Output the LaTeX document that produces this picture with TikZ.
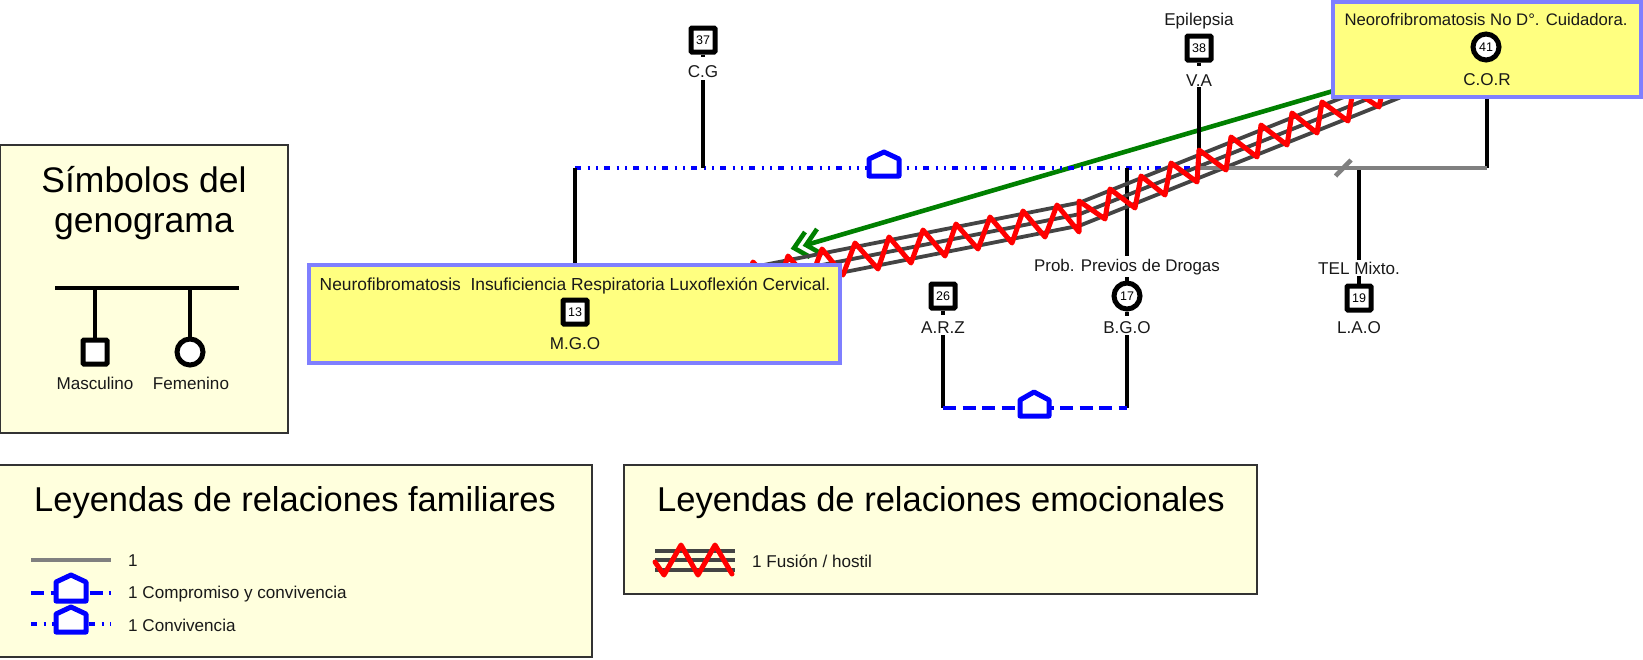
\documentclass[tikz,border=0pt]{standalone}
\usepackage{fontspec}
\setmainfont{Liberation Sans}
\definecolor{legfill}{HTML}{FFFFDD}
\definecolor{hlfill}{HTML}{FFFF80}
\definecolor{hlborder}{HTML}{7F7FFF}
\definecolor{bandgray}{HTML}{444444}
\definecolor{relgray}{HTML}{808080}
\definecolor{relblue}{HTML}{0000FF}
\definecolor{relred}{HTML}{FF0000}
\definecolor{relgreen}{HTML}{008000}
\tikzset{
  legbox/.style={draw=black!80,fill=legfill,line width=1.5pt},
  hlbox/.style={draw=hlborder,fill=hlfill,line width=4.5pt},
  kin/.style={draw=black,line width=4.6pt},
  malebox/.style={draw=black,fill=white,line width=5pt,rounded corners=1pt,minimum size=24pt,inner sep=0pt,shape=rectangle,font=\fontsize{12.5}{12.5}\selectfont},
  femcirc/.style={draw=black,fill=white,line width=5pt,circle,minimum size=26pt,inner sep=0pt,font=\fontsize{12.5}{12.5}\selectfont},
  lab/.style={font=\fontsize{17.1}{17.1}\selectfont,inner sep=0pt,text=black!90},
  bigt/.style={font=\fontsize{34.5}{34.5}\selectfont,inner sep=0pt},
  house/.style={draw=relblue,fill=white,line width=5pt,line join=round},
  dashrel/.style={draw=relblue,line width=4.6pt,dash pattern=on 13pt off 6.5pt},
  dotrel/.style={draw=relblue,line width=4.6pt,dash pattern=on 5.5pt off 7pt on 2pt off 6.5pt on 2pt off 6pt},
  grayrel/.style={draw=relgray,line width=4.6pt},
  band/.style={draw=bandgray,line width=3.8pt},
  zig/.style={draw=relred,line width=5pt,line join=round,line cap=round},
  greenrel/.style={draw=relgreen,line width=4.6pt},
}
\begin{document}
\begin{tikzpicture}[x=1pt,y=-1pt]
\useasboundingbox (0,0) rectangle (1643,659);
% legend boxes
\draw[legbox] (0,145) rectangle (288,433);
\draw[legbox] (-2,465) rectangle (592,657);
\draw[legbox] (624,465) rectangle (1257,594);
\node[bigt,font=\fontsize{35.5}{35.5}\selectfont] (symA) at (144,180) {Símbolos del};
\node[bigt,font=\fontsize{35.5}{35.5}\selectfont] (symB) at (144,227) {genograma};
\coordinate (barL) at (55,288);
\coordinate (barR) at (239,288);
\coordinate (barM) at (95,288);
\coordinate (barF) at (190,288);
\draw[kin] (barL) -- (barR);
\node[malebox] (symM) at (95,352) {};
\node[femcirc] (symF) at (190,352) {};
\draw[kin] (barM) -- (symM.north);
\draw[kin] (barF) -- (symF.north);
\node[lab] (tM) at (95,383) {Masculino};
\node[lab] (tF) at (191,383) {Femenino};
% legend family
\node[bigt] (legF) at (295,503) {Leyendas de relaciones familiares};
\coordinate (a1) at (31,560); \coordinate (a2) at (111,560);
\draw[grayrel] (a1) -- (a2);
\node[lab,anchor=west] (t1) at (128,561) {1};
\coordinate (b1) at (31,593); \coordinate (b2) at (111,593);
\draw[dashrel] (b1) -- (b2);
\draw[house] (56,601) -- (56,582) -- (71,575) -- (86,582) -- (86,601) -- cycle;
\node[lab,anchor=west] (t2) at (128,594.5) {1 Compromiso y convivencia};
\coordinate (c1) at (31,624); \coordinate (c2) at (111,624);
\draw[dotrel] (c1) -- (c2);
\draw[house] (56,632) -- (56,614) -- (71,607) -- (86,614) -- (86,632) -- cycle;
\node[lab,anchor=west] (t3) at (128,625) {1 Convivencia};
% legend emotional
\node[bigt] (legE) at (941,503) {Leyendas de relaciones emocionales};
\coordinate (e1a) at (655,551); \coordinate (e1b) at (735,551);
\coordinate (e2a) at (655,560); \coordinate (e2b) at (735,560);
\coordinate (e3a) at (655,570); \coordinate (e3b) at (735,570);
\draw[band] (e1a) -- (e1b); \draw[band] (e2a) -- (e2b); \draw[band] (e3a) -- (e3b);
\draw[zig] (655,562) -- (664,575) -- (681,545) -- (698,575) -- (715,545) -- (732,574);
\node[lab,anchor=west] (t4) at (752,561) {1 Fusión / hostil};
% green relation (below the blue dots and the kinship lines)
\coordinate (gs) at (1340,89);
\coordinate (gt) at (806,245);
\draw[greenrel] (gs) -- (gt);
\draw[greenrel] (817,229) -- (gt) -- (822,254);
\draw[greenrel] (805,232) -- (794,248) -- (810,257);
% kinship
\coordinate (j37) at (703,168);
\coordinate (j13) at (575,168);
\coordinate (j38) at (1199,168);
\coordinate (j41) at (1487,168);
\coordinate (j19) at (1359,168);
\coordinate (j17) at (1127,168);
\coordinate (h1) at (943,408);
\coordinate (h2) at (1127,408);
\node[malebox] (n37) at (703,40) {37};
\node[lab] (l37) at (703,71.5) {C.G};
\draw[kin] (n37.south) -- (703,57);
\node[malebox] (n38) at (1199,48) {38};
\node[lab] (e38) at (1199,21) {Epilepsia};
\node[lab] (l38) at (1199,80.5) {V.A};
\draw[kin] (n38.south) -- (1199,66);
\draw[kin] (1199,87) -- (j38);
\draw[dotrel] (j13) -- (j38);
\draw[kin] (j37) -- (703,80);
\draw[house] (869,176) -- (869,159) -- (884,152) -- (899,159) -- (899,176) -- cycle;
\draw[kin] (j13) -- (575,270);
\draw[kin] (j41) -- (1487,95);
\draw[kin] (j19) -- (1359,260);
\draw[kin] (j17) -- (1127,256);
\draw[kin] (1127,277) -- (1127,285);
\node[lab] (e19) at (1359,268) {TEL Mixto.};
\node[malebox] (n19) at (1359,298) {19};
\draw[kin] (1359,276) -- (n19.north);
\node[lab] (l19) at (1359,328) {L.A.O};
\node[lab,font=\fontsize{16.9}{16.9}\selectfont] (e17) at (1127,267) {Prob. Previos de Drogas};
\node[femcirc] (n17) at (1127,296) {17};
\node[lab] (l17) at (1127,328) {B.G.O};
\draw[kin] (n17.south) -- (1127,316);
\draw[kin] (1127,335) -- (h2);
\node[malebox] (n26) at (943,296) {26};
\node[lab] (l26) at (943,328) {A.R.Z};
\draw[kin] (n26.south) -- (943,315);
\draw[kin] (943,335) -- (h1);
\draw[dashrel] (h1) -- (h2);
\draw[house] (1020,416) -- (1020,400) -- (1034,392) -- (1049,400) -- (1049,416) -- cycle;
% fusion band
\draw[band] (660,285.5) -- (1080,202.5) -- (1400,74.5);
\draw[band] (660,297) -- (1080,214) -- (1400,86);
\draw[band] (660,308.5) -- (1080,225.5) -- (1400,97.5);
\draw[grayrel] (j38) -- (j41);
\draw[grayrel] (1335.5,176) -- (1351,160);
\draw[zig] (742,294) -- (753,262) -- (777,288) -- (788,256) -- (810,281) -- (822,249) -- (843,275) -- (855,243) -- (878,269) -- (889,237) -- (911,263) -- (923,230) -- (945,256) -- (956,224) -- (978,249) -- (990,217) -- (1012,243) -- (1023,211) -- (1045,237) -- (1057,205) -- (1079,232) -- (1079,201) -- (1105,219) -- (1110,189) -- (1135,208) -- (1141,176) -- (1165,195) -- (1171,163) -- (1197,182) -- (1199,150) -- (1226,170) -- (1231,137) -- (1257,157) -- (1261,125) -- (1287,145) -- (1292,113) -- (1317,133) -- (1322,102) -- (1348,121) -- (1353,90) -- (1379,107) -- (1385,80);
% highlighted boxes
\draw[hlbox] (1333,2) rectangle (1641,97);
\node[lab,font=\fontsize{16.7}{16.7}\selectfont] (d41) at (1486,20) {Neorofribromatosis No D°. Cuidadora.};
\node[femcirc] (n41) at (1486,47) {41};
\node[lab] (l41) at (1487,80) {C.O.R};
\draw[hlbox] (309,265) rectangle (840,363);
\node[lab,font=\fontsize{17.4}{17.4}\selectfont] (d13) at (575,285.5) {Neurofibromatosis\ \ Insuficiencia Respiratoria Luxoflexión Cervical.};
\node[malebox] (n13) at (575,312) {13};
\node[lab] (l13) at (575,344) {M.G.O};
\end{tikzpicture}
\end{document}
